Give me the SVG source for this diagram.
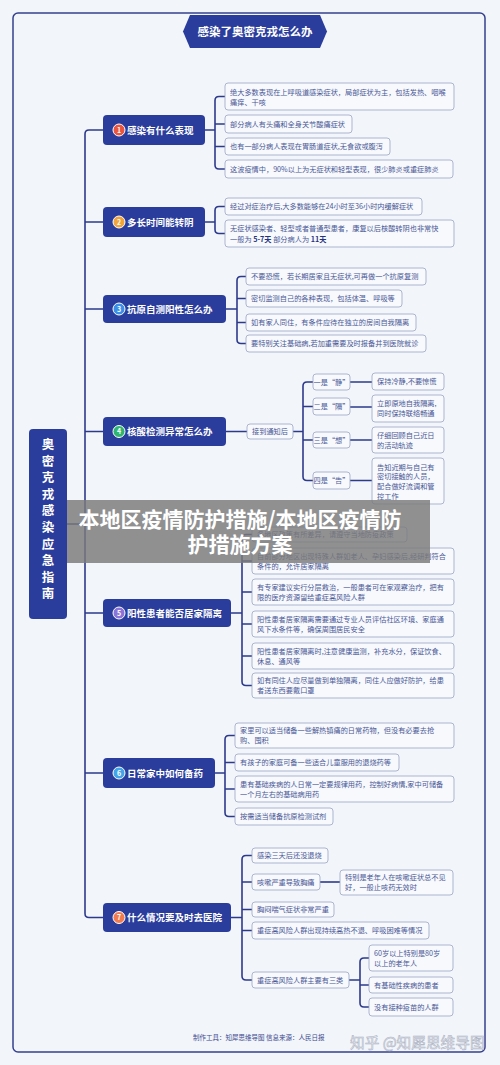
<svg xmlns="http://www.w3.org/2000/svg" width="500" height="1065" viewBox="0 0 500 1065">
<style>
text{font-family:"Noto Sans CJK SC","Noto Sans",sans-serif}
.frame{fill:none;stroke:#34418f;stroke-width:1.5}
.c{fill:none;stroke:#2d3a8c;stroke-width:1.6}
.nb{fill:#2a3d9c}
.nt{font-size:9.5px;font-weight:bold;fill:#fff}
.num{font-size:7px;font-weight:bold;fill:#fff;text-anchor:middle}
.ring{stroke:#fff;stroke-width:1}
.lf{fill:#f7f9fd;stroke:#9ba4c4;stroke-width:0.8}
.lt{font-size:7.2px;fill:#4a5896}
.ltm{font-size:7.2px;fill:#4a5896;text-anchor:middle}
.bd{font-weight:bold;fill:#26327e}
.vt{font-size:12.5px;font-weight:bold;fill:#fff;text-anchor:middle}
</style>
<rect width="500" height="1065" fill="#f2f5fa"/>
<rect class="frame" x="13" y="13" width="472" height="1039" rx="5"/>

<g id="title">
<polygon class="nb" points="183,31.5 190,15 320,15 327,31.5 320,48 190,48"/>
<text x="255" y="35.5" font-size="11.5" font-weight="bold" fill="#fff" text-anchor="middle">感染了奥密克戎怎么办</text>
</g>

<g id="connectors">
<path class="c" d="M67,524 H85"/>
<path class="c" d="M103,130 H89 Q85,130 85,134 V913.5 Q85,917.5 89,917.5 H103"/>
<path class="c" d="M85,222 H103 M85,309 H103 M85,431.5 H103 M85,613 H103 M85,773 H103"/>
<path class="c" d="M205,130 H215 M225,96.5 H219 Q215,96.5 215,100.5 V165 Q215,169 219,169 H225 M215,124 H225 M215,146.5 H225"/>
<path class="c" d="M205,222 H215 M225,206.5 H219 Q215,206.5 215,210.5 V229.5 Q215,233.5 219,233.5 H225"/>
<path class="c" d="M226,309 H237 M246,276.5 H241 Q237,276.5 237,280.5 V339.5 Q237,343.5 241,343.5 H246 M237,298.5 H246 M237,322.5 H246"/>
<path class="c" d="M226,431.5 H247 M293,431.5 H303 M313,382 H307 Q303,382 303,386 V476.5 Q303,480.5 307,480.5 H313 M303,406.5 H313 M303,440 H313"/>
<path class="c" d="M350,382 H372 M350,407 H372 M350,440 H372 M350,480.5 H372"/>
<path class="c" d="M231,613 H242 M252,534.5 H246 Q242,534.5 242,538.5 V681.5 Q242,685.5 246,685.5 H252 M242,561 H252 M242,592 H252 M242,624 H252 M242,656 H252"/>
<path class="c" d="M215,773 H225 M235,735.5 H229 Q225,735.5 225,739.5 V812.5 Q225,816.5 229,816.5 H235 M225,762.5 H235 M225,789 H235"/>
<path class="c" d="M231,917.5 H242 M252,855.5 H246 Q242,855.5 242,859.5 V976 Q242,980 246,980 H252 M242,882 H252 M242,909.5 H252 M242,930.5 H252"/>
<path class="c" d="M320,882 H340"/>
<path class="c" d="M349,980 H360 M369,958 H364 Q360,958 360,962 V1003 Q360,1007 364,1007 H369 M360,985 H369"/>
</g>

<g id="root">
<rect class="nb" x="29" y="429" width="38" height="190" rx="4"/>
<text class="vt" x="48" y="449">奥</text>
<text class="vt" x="48" y="465.6">密</text>
<text class="vt" x="48" y="482.2">克</text>
<text class="vt" x="48" y="498.8">戎</text>
<text class="vt" x="48" y="515.4">感</text>
<text class="vt" x="48" y="532">染</text>
<text class="vt" x="48" y="548.6">应</text>
<text class="vt" x="48" y="565.2">急</text>
<text class="vt" x="48" y="581.8">指</text>
<text class="vt" x="48" y="598.4">南</text>
</g>

<g id="n1">
<rect class="nb" x="103" y="115" width="102" height="30" rx="4"/>
<circle class="ring" cx="119" cy="130" r="6" fill="#e9553f"/>
<text class="num" x="119" y="132.5">1</text>
<text class="nt" x="127" y="133.5">感染有什么表现</text>
</g>
<g id="n1-leaves">
<rect class="lf" x="225" y="83" width="229" height="27" rx="3"/>
<text class="lt" x="230" y="94.5">绝大多数表现在上呼吸道感染症状，局部症状为主，包括发热、咽喉</text>
<text class="lt" x="230" y="104.5">痛痒、干咳</text>
<rect class="lf" x="225" y="115" width="127" height="18" rx="3"/>
<text class="lt" x="230" y="126.6">部分病人有头痛和全身关节酸痛症状</text>
<rect class="lf" x="225" y="138" width="165" height="17" rx="3"/>
<text class="lt" x="230" y="149">也有一部分病人表现在胃肠道症状,无食欲或腹泻</text>
<rect class="lf" x="225" y="160" width="228" height="18" rx="3"/>
<text class="lt" x="230" y="171.6">这波疫情中，90%以上为无症状和轻型表现，很少肺炎或重症肺炎</text>
</g>

<g id="n2">
<rect class="nb" x="103" y="207" width="102" height="30" rx="4"/>
<circle class="ring" cx="119" cy="222" r="6" fill="#f0a43a"/>
<text class="num" x="119" y="224.5">2</text>
<text class="nt" x="127" y="225.5">多长时间能转阴</text>
</g>
<g id="n2-leaves">
<rect class="lf" x="225" y="198" width="197" height="17" rx="3"/>
<text class="lt" x="230" y="209">经过对症治疗后,大多数能够在24小时至36小时内缓解症状</text>
<rect class="lf" x="225" y="220" width="229" height="27" rx="3"/>
<text class="lt" x="230" y="231">无症状感染者、轻型或者普通型患者，康复以后核酸转阴也非常快</text>
<text class="lt" x="230" y="241.5">一般为 <tspan class="bd">5-7天</tspan>    部分病人为 <tspan class="bd">11天</tspan></text>
</g>

<g id="n3">
<rect class="nb" x="103" y="295" width="123" height="28" rx="4"/>
<circle class="ring" cx="119" cy="309" r="6" fill="#3d8fe6"/>
<text class="num" x="119" y="311.5">3</text>
<text class="nt" x="127" y="312.5">抗原自测阳性怎么办</text>
</g>
<g id="n3-leaves">
<rect class="lf" x="246" y="268" width="180" height="17" rx="3"/>
<text class="lt" x="251" y="279">不要恐慌，若长期居家且无症状,可再做一个抗原复测</text>
<rect class="lf" x="246" y="290" width="156" height="17" rx="3"/>
<text class="lt" x="251" y="301">密切监测自己的各种表现，包括体温、呼吸等</text>
<rect class="lf" x="246" y="314" width="170" height="17" rx="3"/>
<text class="lt" x="251" y="325">如有家人同住，有条件应待在独立的房间自我隔离</text>
<rect class="lf" x="246" y="335" width="180" height="17" rx="3"/>
<text class="lt" x="251" y="346">要特别关注基础病,若加重需要及时报备并到医院就诊</text>
</g>

<g id="n4">
<rect class="nb" x="103" y="417" width="123" height="29" rx="4"/>
<circle class="ring" cx="119" cy="431.5" r="6" fill="#2fb56f"/>
<text class="num" x="119" y="434">4</text>
<text class="nt" x="127" y="435">核酸检测异常怎么办</text>
</g>
<g id="n4-leaves">
<rect class="lf" x="247" y="424" width="46" height="15" rx="3"/>
<text class="ltm" x="270" y="434">接到通知后</text>
<rect class="lf" x="313" y="374" width="37" height="16" rx="3"/>
<text class="ltm" x="331.5" y="384.5">一是“静”</text>
<rect class="lf" x="313" y="398" width="37" height="17" rx="3"/>
<text class="ltm" x="331.5" y="409">二是“隔”</text>
<rect class="lf" x="313" y="432" width="37" height="16" rx="3"/>
<text class="ltm" x="331.5" y="442.5">三是“想”</text>
<rect class="lf" x="313" y="472" width="37" height="17" rx="3"/>
<text class="ltm" x="331.5" y="483">四是“告”</text>
<rect class="lf" x="372" y="373" width="72" height="17" rx="3"/>
<text class="lt" x="377" y="384">保持冷静,不要惊慌</text>
<rect class="lf" x="372" y="395" width="72" height="27" rx="3"/>
<text class="lt" x="377" y="406">立即原地自我隔离,</text>
<text class="lt" x="377" y="416">同时保持联络畅通</text>
<rect class="lf" x="372" y="427" width="72" height="26" rx="3"/>
<text class="lt" x="377" y="438">仔细回顾自己近日</text>
<text class="lt" x="377" y="448">的活动轨迹</text>
<rect class="lf" x="372" y="458" width="72" height="46" rx="3"/>
<text class="lt" x="377" y="469.5">告知近期与自己有</text>
<text class="lt" x="377" y="479.3">密切接触的人员，</text>
<text class="lt" x="377" y="489.1">配合做好流调和管</text>
<text class="lt" x="377" y="498.9">控工作</text>
</g>

<g id="n5">
<rect class="nb" x="103" y="599" width="128" height="28" rx="4"/>
<circle class="ring" cx="119" cy="613" r="6" fill="#8b74d8"/>
<text class="num" x="119" y="615.5">5</text>
<text class="nt" x="127" y="616.5">阳性患者能否居家隔离</text>
</g>
<g id="n5-leaves">
<rect class="lf" x="252" y="527" width="155" height="15" rx="3"/>
<text class="lt" x="257" y="537">各地区政策有所差异，请遵守当地防疫政策</text>
<rect class="lf" x="252" y="548" width="202" height="26" rx="3"/>
<text class="lt" x="257" y="558.5">目前部分地区出现特殊人群如老人、孕妇感染后,经研判符合</text>
<text class="lt" x="257" y="568.5">条件的，允许居家隔离</text>
<rect class="lf" x="252" y="579" width="202" height="26" rx="3"/>
<text class="lt" x="257" y="589.5">有专家建议实行分层救治，一般患者可在家观察治疗，把有</text>
<text class="lt" x="257" y="599.5">限的医疗资源留给重症高风险人群</text>
<rect class="lf" x="252" y="611" width="202" height="26" rx="3"/>
<text class="lt" x="257" y="621.5">阳性患者居家隔离需要通过专业人员评估社区环境、家庭通</text>
<text class="lt" x="257" y="631.5">风下水条件等，确保周围居民安全</text>
<rect class="lf" x="252" y="643" width="202" height="26" rx="3"/>
<text class="lt" x="257" y="653.5">阳性患者居家隔离时,注意健康监测，补充水分，保证饮食、</text>
<text class="lt" x="257" y="663.5">休息、通风等</text>
<rect class="lf" x="252" y="673" width="202" height="25" rx="3"/>
<text class="lt" x="257" y="683">如有同住人应尽量做到单独隔离，同住人应做好防护，给患</text>
<text class="lt" x="257" y="693">者送东西要戴口罩</text>
</g>

<g id="n6">
<rect class="nb" x="103" y="758" width="112" height="30" rx="4"/>
<circle class="ring" cx="119" cy="773" r="6" fill="#43a5e8"/>
<text class="num" x="119" y="775.5">6</text>
<text class="nt" x="127" y="776.5">日常家中如何备药</text>
</g>
<g id="n6-leaves">
<rect class="lf" x="235" y="723" width="219" height="25" rx="3"/>
<text class="lt" x="240" y="733">家里可以适当储备一些解热镇痛的日常药物，但没有必要去抢</text>
<text class="lt" x="240" y="743">购、囤积</text>
<rect class="lf" x="235" y="754" width="164" height="17" rx="3"/>
<text class="lt" x="240" y="765">有孩子的家庭可备一些适合儿童服用的退烧药等</text>
<rect class="lf" x="235" y="776" width="219" height="26" rx="3"/>
<text class="lt" x="240" y="786.5">患有基础疾病的人日常一定要规律用药，控制好病情,家中可储备</text>
<text class="lt" x="240" y="796.5">一个月左右的基础病用药</text>
<rect class="lf" x="235" y="808" width="98" height="17" rx="3"/>
<text class="lt" x="240" y="819">按需适当储备抗原检测试剂</text>
</g>

<g id="n7">
<rect class="nb" x="103" y="903" width="128" height="29" rx="4"/>
<circle class="ring" cx="119" cy="917.5" r="6" fill="#f17b4e"/>
<text class="num" x="119" y="920">7</text>
<text class="nt" x="127" y="921">什么情况要及时去医院</text>
</g>
<g id="n7-leaves">
<rect class="lf" x="252" y="848" width="76" height="15" rx="3"/>
<text class="lt" x="257" y="858">感染三天后还没退烧</text>
<rect class="lf" x="252" y="874" width="68" height="16" rx="3"/>
<text class="lt" x="257" y="884.5">咳嗽严重导致胸痛</text>
<rect class="lf" x="340" y="870" width="113" height="25" rx="3"/>
<text class="lt" x="345" y="880">特别是老年人在咳嗽症状总不见</text>
<text class="lt" x="345" y="890">好，一般止咳药无效时</text>
<rect class="lf" x="252" y="902" width="82" height="15" rx="3"/>
<text class="lt" x="257" y="912">胸闷喘气症状非常严重</text>
<rect class="lf" x="252" y="922" width="177" height="17" rx="3"/>
<text class="lt" x="257" y="933">重症高风险人群出现持续高热不退、呼吸困难等情况</text>
<rect class="lf" x="252" y="972" width="97" height="16" rx="3"/>
<text class="lt" x="257" y="982.5">重症高风险人群主要有三类</text>
<rect class="lf" x="369" y="945" width="84" height="26" rx="3"/>
<text class="lt" x="374" y="955.5">60岁以上特别是80岁</text>
<text class="lt" x="374" y="965.5">以上的老年人</text>
<rect class="lf" x="369" y="977" width="84" height="16" rx="3"/>
<text class="lt" x="374" y="987.5">有基础性疾病的患者</text>
<rect class="lf" x="369" y="998" width="84" height="18" rx="3"/>
<text class="lt" x="374" y="1009.5">没有接种疫苗的人群</text>
</g>

<g id="footer">
<text x="193" y="1040" font-size="6.5" fill="#3d4a8f">制作工具：知犀思维导图   信息来源：人民日报</text>
<text x="350" y="1047.5" font-size="14.7" fill="#eceef4" stroke="#aab0c0" stroke-width="0.5">知乎 @知犀思维导图</text>
</g>

<g id="banner">
<rect x="67" y="500" width="363" height="63" fill="#7a7a7a" opacity="0.82"/>
<text x="240" y="527" font-size="21" font-weight="bold" fill="#fff" text-anchor="middle">本地区疫情防护措施/本地区疫情防</text>
<text x="240" y="552" font-size="21" font-weight="bold" fill="#fff" text-anchor="middle">护措施方案</text>
</g>
</svg>
